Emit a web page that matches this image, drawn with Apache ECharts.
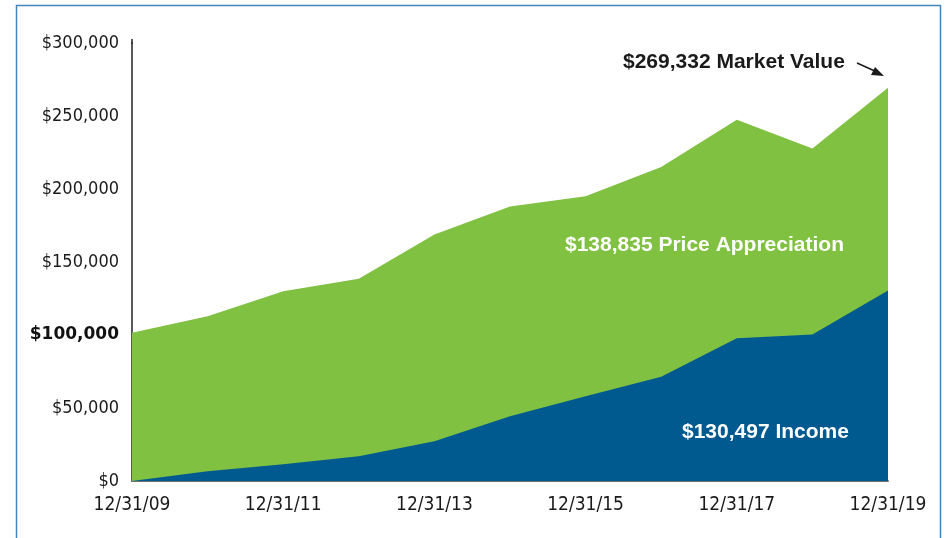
<!DOCTYPE html>
<html>
<head>
<meta charset="utf-8">
<script src="https://cdn.jsdelivr.net/npm/echarts@6/dist/echarts.min.js"></script>
<style>
  html, body { margin: 0; padding: 0; background: #fff; }
  #chart { width: 947px; height: 538px; }
</style>
</head>
<body>
<div id="chart"></div>
<script>
// year-end dates, one point per year
const dates = ['12/31/09', '12/31/10', '12/31/11', '12/31/12', '12/31/13', '12/31/14',
  '12/31/15', '12/31/16', '12/31/17', '12/31/18', '12/31/19'];
// total market value (top of green area)
const marketValue = [101500, 112900, 130000, 138500, 168800, 188000, 195000, 215000, 247500, 227700, 269332];
// cumulative income (blue area)
const income = [0, 6600, 11400, 16900, 27200, 44300, 58000, 71400, 97700, 100400, 130497];
const yTicks = [0, 50000, 100000, 150000, 200000, 250000, 300000];

const FONT = "'Liberation Sans Narrow', 'DejaVu Sans Condensed', sans-serif";
const BOLD = "bold 21px 'Liberation Sans', Arial, sans-serif";
const GREEN = '#80c142';
const BLUE = '#005a90';

const fmt = v => '$' + v.toLocaleString('en-US');

const chart = echarts.init(document.getElementById('chart'));

chart.setOption({
  animation: false,
  grid: { left: 132, right: 59, top: 43, bottom: 57 },
  xAxis: {
    type: 'category',
    data: dates,
    boundaryGap: false,
    axisLine: { lineStyle: { color: '#707070', width: 2 } },
    axisTick: { show: false },
    axisLabel: {
      interval: 1,
      color: '#1a1a1a',
      fontFamily: FONT,
      fontSize: 19,
      margin: 15
    },
    splitLine: { show: false }
  },
  yAxis: {
    type: 'value',
    min: yTicks[0],
    max: yTicks[yTicks.length - 1],
    interval: 50000,
    axisLine: { show: true, lineStyle: { color: '#222', width: 1.5 } },
    axisTick: { show: false },
    splitLine: { show: false },
    axisLabel: {
      margin: 13,
      color: '#1a1a1a',
      fontFamily: FONT,
      fontSize: 18,
      formatter: v => v === 100000 ? '{b|' + fmt(v) + '}' : fmt(v),
      rich: {
        b: { fontFamily: "'DejaVu Sans', sans-serif", fontWeight: 'bold', fontSize: 17, color: '#111' }
      }
    }
  },
  series: [
    {
      name: 'Market Value',
      type: 'line',
      data: marketValue,
      symbol: 'none',
      lineStyle: { width: 0 },
      areaStyle: { color: GREEN, opacity: 1 },
      z: 1
    },
    {
      name: 'Income',
      type: 'line',
      data: income,
      symbol: 'none',
      lineStyle: { width: 0 },
      areaStyle: { color: BLUE, opacity: 1 },
      z: 2
    }
  ],
  graphic: [
    // outer frame
    {
      type: 'rect', silent: true, z: -1,
      shape: { x: 16.5, y: 5.5, width: 924, height: 560 },
      style: { fill: 'none', stroke: '#4384bb', lineWidth: 1.5 }
    },
    // y axis line runs a little past the top tick
    {
      type: 'line', z: 10,
      shape: { x1: 132, y1: 39, x2: 132, y2: 44 },
      style: { stroke: '#222', lineWidth: 1.5 }
    },
    {
      type: 'text', z: 10,
      style: { x: 623, y: 62, text: '$269,332 Market Value', fill: '#1a1a1a', font: BOLD, verticalAlign: 'middle' }
    },
    // arrow to the last point
    {
      type: 'line', z: 10,
      shape: { x1: 857, y1: 63, x2: 877, y2: 72 },
      style: { stroke: '#1a1a1a', lineWidth: 1.5 }
    },
    {
      type: 'polygon', z: 10,
      shape: { points: [[884, 76], [871, 75], [875, 67]] },
      style: { fill: '#1a1a1a' }
    },
    {
      type: 'text', z: 10,
      style: { x: 565, y: 245, text: '$138,835 Price Appreciation', fill: '#fff', font: BOLD, verticalAlign: 'middle' }
    },
    {
      type: 'text', z: 10,
      style: { x: 682, y: 432, text: '$130,497 Income', fill: '#fff', font: BOLD, verticalAlign: 'middle' }
    }
  ]
});
</script>
</body>
</html>
